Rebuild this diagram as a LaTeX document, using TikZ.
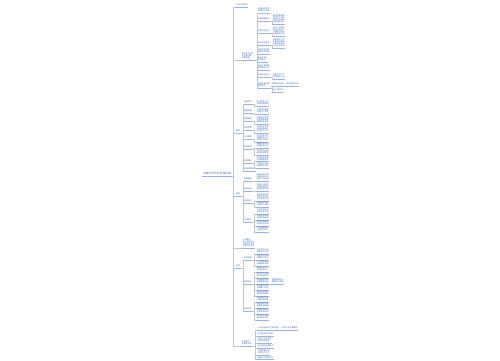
\documentclass[tikz,border=0pt]{standalone}
\usepackage{fontspec}
\newfontfamily\cjk{Noto Sans CJK SC}
\definecolor{mmtext}{HTML}{3A6BB5}
\definecolor{mmunder}{HTML}{9DB4DA}
\definecolor{mmline}{HTML}{BCC6D6}
\tikzset{
  under/.style={draw=mmunder,line width=0.15pt},
  link/.style={draw=mmline,line width=0.15pt},
  topic/.style={anchor=south west,inner sep=0.3pt,align=left,text=mmtext,
    font=\cjk\fontsize{1.1}{1.28}\selectfont,
    append after command={(\tikzlastnode.south west) edge[under] (\tikzlastnode.south east)}},
  roottopic/.style={topic,anchor=south east,font=\cjk\fontsize{1.55}{1.7}\selectfont},
}
\begin{document}
\begin{tikzpicture}[x=0.02cm,y=-0.02cm]
        \useasboundingbox (0,0) rectangle (500,360);
        \node[roottopic] (r) at (232,176) {年度工作计划 实施方案};
        \node[topic] (a) at (235,7) {工作计划目标};
        \node[topic] (b) at (241,60) {重点工作任务\\及主要内容\\安排部署};
        \node[topic] (c) at (235,133) {保障};
        \node[topic] (d) at (235,196) {措施};
        \node[topic] (e) at (242,248) {工作要求\\统一思想认识\\加强组织领导\\狠抓工作落实};
        \node[topic] (f) at (235,268) {步骤};
        \node[topic] (g) at (241,346) {其他事项\\及有关说明};
        \foreach \n in {a,b,c,d,e,f,g}
            \draw[link] (r.south east) -- ++(1,0) |- (\n.south west);

        \node[topic] (b1) at (257,13) {加强组织领导\\明确工作职责};
        \node[topic] (b2) at (257,21) {完善制度建设};
        \node[topic] (b2a) at (272,24) {健全管理制度\\规范工作流程\\落实岗位责任\\强化监督考核};
        \node[topic] (b3) at (257,33) {加强队伍建设};
        \node[topic] (b3a) at (272,36) {优化人员结构\\提升业务能力\\开展岗位培训\\完善激励机制};
        \node[topic] (b4) at (257,45) {深化宣传教育};
        \node[topic] (b4a) at (272,48) {创新宣传方式\\丰富活动载体\\营造良好氛围\\扩大社会影响};
        \node[topic] (b5) at (257,54) {开展专项检查\\排查风险隐患};
        \node[topic] (b6) at (257,62) {推进信息化\\建设步伐};
        \node[topic] (b7) at (257,70) {强化日常管理\\提高服务水平};
        \node[topic] (b8) at (257,77) {加强安全培训};
        \node[topic] (b8a) at (272,79) {组织全员学习\\考核合格上岗};
        \node[topic] (b9) at (257,88) {隐患排查治理\\整改落实};
        \node[topic] (b9a) at (271,86) {定期开展自查};
        \node[topic] (b9c) at (286,86) {建立整改台账};
        \node[topic] (b9b) at (271,92) {及时上报情况};
        \foreach \n in {b1,b2,b3,b4,b5,b6,b7,b8,b9}
            \draw[link] (b.south east) -- ++(2.5,0) |- (\n.south west);
        \draw[link] (b2.south east) -- ++(2,0) |- (b2a.south west);
        \draw[link] (b3.south east) -- ++(2,0) |- (b3a.south west);
        \draw[link] (b4.south east) -- ++(2,0) |- (b4a.south west);
        \draw[link] (b8.south east) -- ++(2,0) |- (b8a.south west);
        \draw[link] (b9.south east) -- ++(2,0) |- (b9a.south west);
        \draw[link] (b9.south east) -- ++(2,0) |- (b9b.south west);
        \draw[link] (b9a.south east) -- (b9c.south west);

        \node[topic] (c1) at (243,104) {组织保障};
        \node[topic] (c1a) at (256,106) {成立领导小组\\统筹协调推进};
        \node[topic] (c2) at (243,113) {制度保障};
        \node[topic] (c2a) at (256,114) {完善规章制度\\规范运行管理};
        \node[topic] (c3) at (243,121) {经费保障};
        \node[topic] (c3a) at (256,124) {落实专项资金\\加强预算管理\\确保专款专用};
        \node[topic] (c4) at (243,130) {技术保障};
        \node[topic] (c4a) at (256,133) {引进先进技术\\加强设备维护\\提升技术水平};
        \node[topic] (c5) at (243,139) {人员保障};
        \node[topic] (c5a) at (256,142) {配齐配强人员\\明确岗位分工\\落实工作责任};
        \node[topic] (c6) at (243,149) {物资保障};
        \node[topic] (c6a) at (256,148) {储备应急物资\\定期检查补充};
        \node[topic] (c6b) at (256,155) {建立物资台账\\规范使用管理};
        \node[topic] (c7) at (243,163) {监督保障};
        \node[topic] (c7a) at (256,161.5) {加强过程监督\\及时通报情况};
        \node[topic] (c7b) at (256,168) {严格考核奖惩\\确保取得实效};
        \node[topic] (c8) at (243,171) {其他保障事项};
        \foreach \n in {c1,c2,c3,c4,c5,c6,c7,c8}
            \draw[link] (c.south east) -- ++(2.5,0) |- (\n.south west);
        \foreach \p/\n in {c1/c1a,c2/c2a,c3/c3a,c4/c4a,c5/c5a,c6/c6a,c6/c6b,c7/c7a,c7/c7b}
            \draw[link] (\p.south east) -- ++(2,0) |- (\n.south west);

        \node[topic] (d1) at (243,181) {前期准备};
        \node[topic] (d1a) at (256,181) {制定实施方案\\明确目标任务\\细化工作措施};
        \node[topic] (d2) at (243,191) {组织实施};
        \node[topic] (d2a) at (256,191) {按照计划推进\\加强协调配合\\确保进度质量};
        \node[topic] (d3) at (243,203) {检查验收};
        \node[topic] (d3a) at (256,201) {组织专项检查\\开展考核评估\\及时反馈问题};
        \node[topic] (d3b) at (256,207) {督促整改落实\\巩固工作成果};
        \node[topic] (d4) at (243,222) {总结提升};
        \node[topic] (d4a) at (256,214) {认真总结经验\\查找不足之处};
        \node[topic] (d4b) at (256,220) {完善长效机制\\推动持续改进};
        \node[topic] (d4c) at (256,226) {表彰先进典型\\发挥示范作用};
        \node[topic] (d4d) at (256,232) {形成书面报告\\上报有关部门};
        \foreach \n in {d1,d2,d3,d4}
            \draw[link] (d.south east) -- ++(2.5,0) |- (\n.south west);
        \foreach \p/\n in {d1/d1a,d2/d2a,d3/d3a,d3/d3b,d4/d4a,d4/d4b,d4/d4c,d4/d4d}
            \draw[link] (\p.south east) -- ++(2,0) |- (\n.south west);

        \node[topic] (f1) at (243,260) {动员部署};
        \node[topic] (f1a) at (256,254) {召开动员大会\\部署工作任务};
        \node[topic] (f1b) at (256,260) {制定工作方案\\明确时间节点};
        \node[topic] (f1c) at (256,266) {广泛宣传发动\\营造浓厚氛围};
        \node[topic] (f2) at (243,284) {全面实施};
        \node[topic] (f2a) at (256,272) {细化任务分工\\责任落实到人};
        \node[topic] (f2b) at (256,278) {建立工作台账\\实行挂图作战};
        \node[topic] (f2c) at (256,284) {加强督促指导\\定期调度进展};
        \node[topic] (f2d) at (271,284) {按期完成任务\\确保工作质量};
        \node[topic] (f2e) at (256,290) {及时解决问题\\总结推广经验};
        \node[topic] (f2f) at (256,296) {强化信息报送\\做好宣传报道};
        \node[topic] (f3) at (243,311) {总结验收};
        \node[topic] (f3a) at (256,302) {对照目标任务\\开展全面自查};
        \node[topic] (f3b) at (256,308) {组织考核验收\\通报考核结果};
        \node[topic] (f3c) at (256,314) {梳理经验做法\\形成长效机制};
        \node[topic] (f3d) at (256,320) {撰写工作总结\\按时报送材料};
        \foreach \n in {f1,f2,f3}
            \draw[link] (f.south east) -- ++(2.5,0) |- (\n.south west);
        \foreach \p/\n in {f1/f1a,f1/f1b,f1/f1c,f2/f2a,f2/f2b,f2/f2c,f2/f2e,f2/f2f,f3/f3a,f3/f3b,f3/f3c,f3/f3d}
            \draw[link] (\p.south east) -- ++(2,0) |- (\n.south west);
        \draw[link] (f2c.south east) -- (f2d.south west);

        \node[topic] (g1) at (257,330) {本计划自发布之日起施行};
        \node[topic] (g1a) at (281,330) {由办公室负责解释};
        \node[topic] (g2) at (257,336) {未尽事宜另行通知};
        \node[topic] (g3) at (257,343) {各部门结合实际\\制定具体措施};
        \node[topic] (g4) at (257,348) {按时报送进展情况};
        \node[topic] (g5) at (257,355) {加强沟通协调\\形成工作合力};
        \node[topic] (g6) at (257,359.5) {确保计划落到实处};
        \foreach \n in {g1,g2,g3,g4,g5,g6}
            \draw[link] (g.south east) -- ++(2.5,0) |- (\n.south west);
        \draw[link] (g1.south east) -- (g1a.south west);
    \end{tikzpicture}
\end{document}
